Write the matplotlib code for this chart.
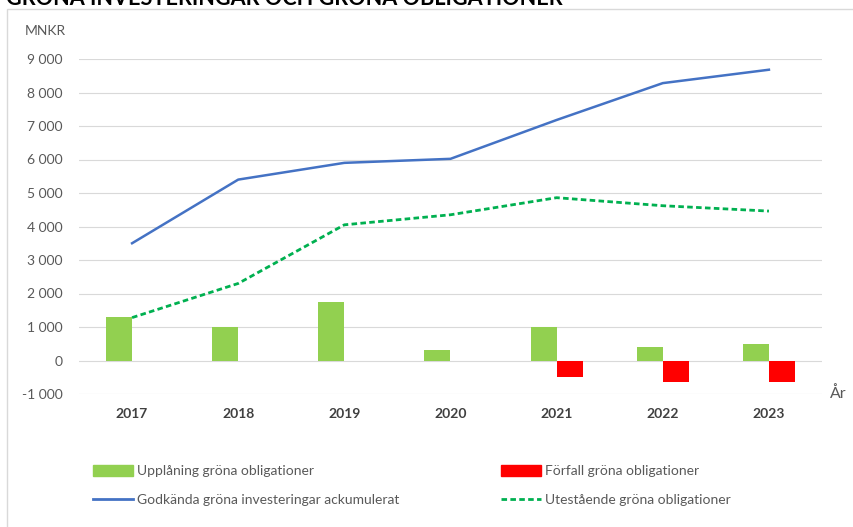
import matplotlib.pyplot as plt
import numpy as np
from matplotlib.ticker import FuncFormatter, MultipleLocator
from matplotlib.patches import Rectangle
from matplotlib.lines import Line2D

# --- DATA ---
years = ["2017", "2018", "2019", "2020", "2021", "2022", "2023"]
upplaning = [1300, 1000, 1750, 300, 1000, 400, 500]
forfall = [0, 0, 0, 0, -500, -650, -650]
godkanda = [3500, 5400, 5900, 6020, 7180, 8280, 8680]
utestaende = [1280, 2300, 4050, 4350, 4860, 4620, 4460]

GREEN = "#92D050"
RED = "#FF0000"
BLUE = "#4472C4"
DGREEN = "#00B050"
GRAY = "#595959"

plt.rcParams['font.family'] = ['Lato', 'DejaVu Sans']

fig = plt.figure(figsize=(8.54, 5.27), dpi=100)
ax = fig.add_axes([79 / 854, 1 - 394 / 527, (822 - 79) / 854, (394 - 59) / 527])

x = np.arange(len(years))
w = 0.245
ax.bar(x - w / 2, upplaning, w, color=GREEN, zorder=2)
ax.bar(x + w / 2, forfall, w, color=RED, zorder=2)
ax.plot(x, godkanda, color=BLUE, lw=1.8, zorder=3)
ax.plot(x, utestaende, color=DGREEN, lw=2, ls=(0, (2, 1.2)), zorder=3)

ax.set_xlim(-0.5, len(years) - 0.5)
ax.set_ylim(-1000, 9000)
ax.yaxis.set_major_locator(MultipleLocator(1000))
ax.yaxis.set_major_formatter(FuncFormatter(lambda v, p: f"{int(v):,}".replace(",", " ")))
ax.grid(axis="y", color="#D9D9D9", lw=0.8, zorder=0)
ax.set_axisbelow(True)
for s in ax.spines.values():
    s.set_visible(False)
ax.tick_params(length=0, labelsize=10, colors=GRAY)
ax.tick_params(axis="y", pad=12)
ax.tick_params(axis="x", pad=10)
ax.set_xticks(x)
ax.set_xticklabels(years, fontweight="bold", color="#404040")

fig.text(25 / 854, 1 - 31 / 527, "MNKR", fontsize=10, color=GRAY, va="center")
fig.text(830 / 854, 1 - 394 / 527, "År", fontsize=11.5, color=GRAY, va="center")

# chart frame and cut-off title
fig.patches.append(Rectangle((7 / 854, -0.05), 1.1, 1 - 9 / 527 + 0.05, transform=fig.transFigure,
                             fill=False, ec="#D9D9D9", lw=1))
fig.text(6 / 854, 1 - 5 / 527, "GRÖNA INVESTERINGAR OCH GRÖNA OBLIGATIONER", fontsize=15.6,
         fontweight="bold", color="black", va="baseline")

handles = [
    Rectangle((0, 0), 1, 1, color=GREEN),
    Line2D([], [], color=BLUE, lw=2),
    Rectangle((0, 0), 1, 1, color=RED),
    Line2D([], [], color=DGREEN, lw=2, ls=(0, (2, 1.2))),
]
labels = ["Upplåning gröna obligationer", "Godkända gröna investeringar ackumulerat",
          "Förfall gröna obligationer", "Utestående gröna obligationer"]
fig.legend(handles, labels, ncol=2, loc="upper left", bbox_to_anchor=(80 / 854, 1 - 452 / 527),
           frameon=False, fontsize=10, labelcolor=GRAY, handlelength=2.9, handleheight=0.9,
           handletextpad=0.3, columnspacing=7.3, labelspacing=1.2)

fig.savefig("out.png", dpi=100)
